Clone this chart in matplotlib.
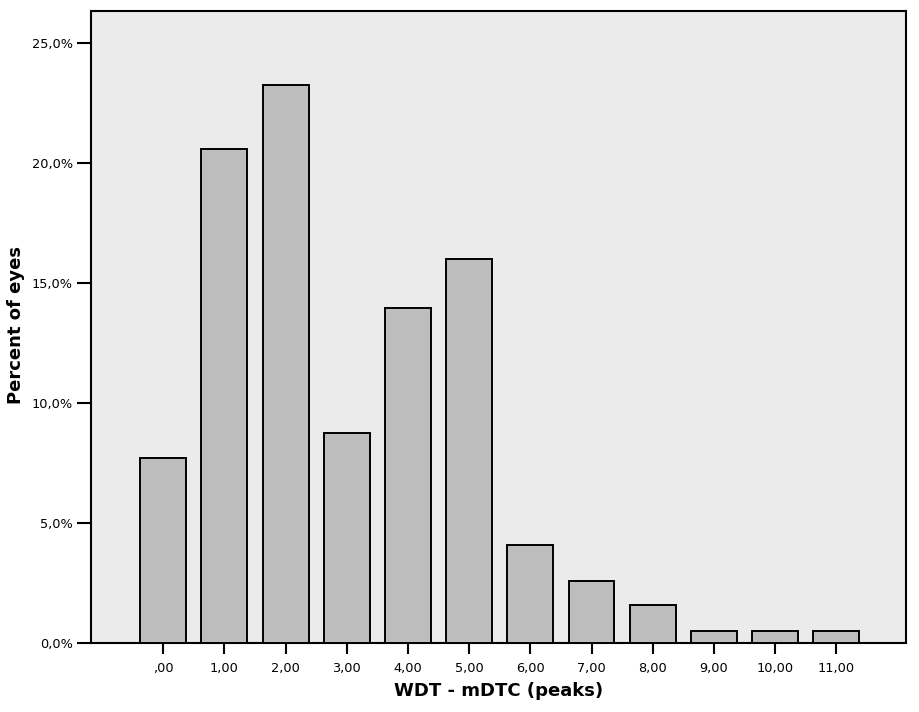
import matplotlib
matplotlib.use("Agg")
import matplotlib.pyplot as plt
from matplotlib.ticker import FixedLocator, FixedFormatter

categories = [",00", "1,00", "2,00", "3,00", "4,00", "5,00", "6,00", "7,00", "8,00", "9,00", "10,00", "11,00"]
percent = [7.7, 20.6, 23.25, 8.75, 13.95, 16.0, 4.1, 2.6, 1.6, 0.5, 0.5, 0.5]
ytick_values = [0, 5, 10, 15, 20, 25]
ytick_labels = ["0,0%", "5,0%", "10,0%", "15,0%", "20,0%", "25,0%"]

plt.rcParams['font.family'] = ['DejaVu Sans']

fig = plt.figure(figsize=(9.2, 7.12), dpi=100)
fig.patch.set_facecolor('white')
ax = fig.add_axes([0.0989, 0.0969, 0.8859, 0.8877])
ax.set_facecolor('#ebebeb')

x = list(range(len(categories)))
ax.bar(x, percent, width=0.75, color='#bdbdbd', edgecolor='black', linewidth=1.4, zorder=3)

ax.set_xlim(-1.18, 12.14)
ax.set_ylim(0, 26.33)
ax.set_xticks(x)
ax.set_xticklabels(categories)
ax.yaxis.set_major_locator(FixedLocator(ytick_values))
ax.yaxis.set_major_formatter(FixedFormatter(ytick_labels))

for s in ax.spines.values():
    s.set_linewidth(1.5)
    s.set_color('black')

ax.tick_params(axis='y', direction='out', length=10, width=1.5, labelsize=9.3, pad=3)
ax.tick_params(axis='x', direction='out', length=8, width=1.5, labelsize=9.3, pad=6)

ax.set_ylabel("Percent of eyes", fontsize=13, fontweight='bold')
ax.set_xlabel("WDT - mDTC (peaks)", fontsize=13, fontweight='bold')
ax.yaxis.set_label_coords(-0.081, 0.503)
ax.xaxis.set_label_coords(0.5, -0.062)

fig.savefig("out.png", dpi=100)
